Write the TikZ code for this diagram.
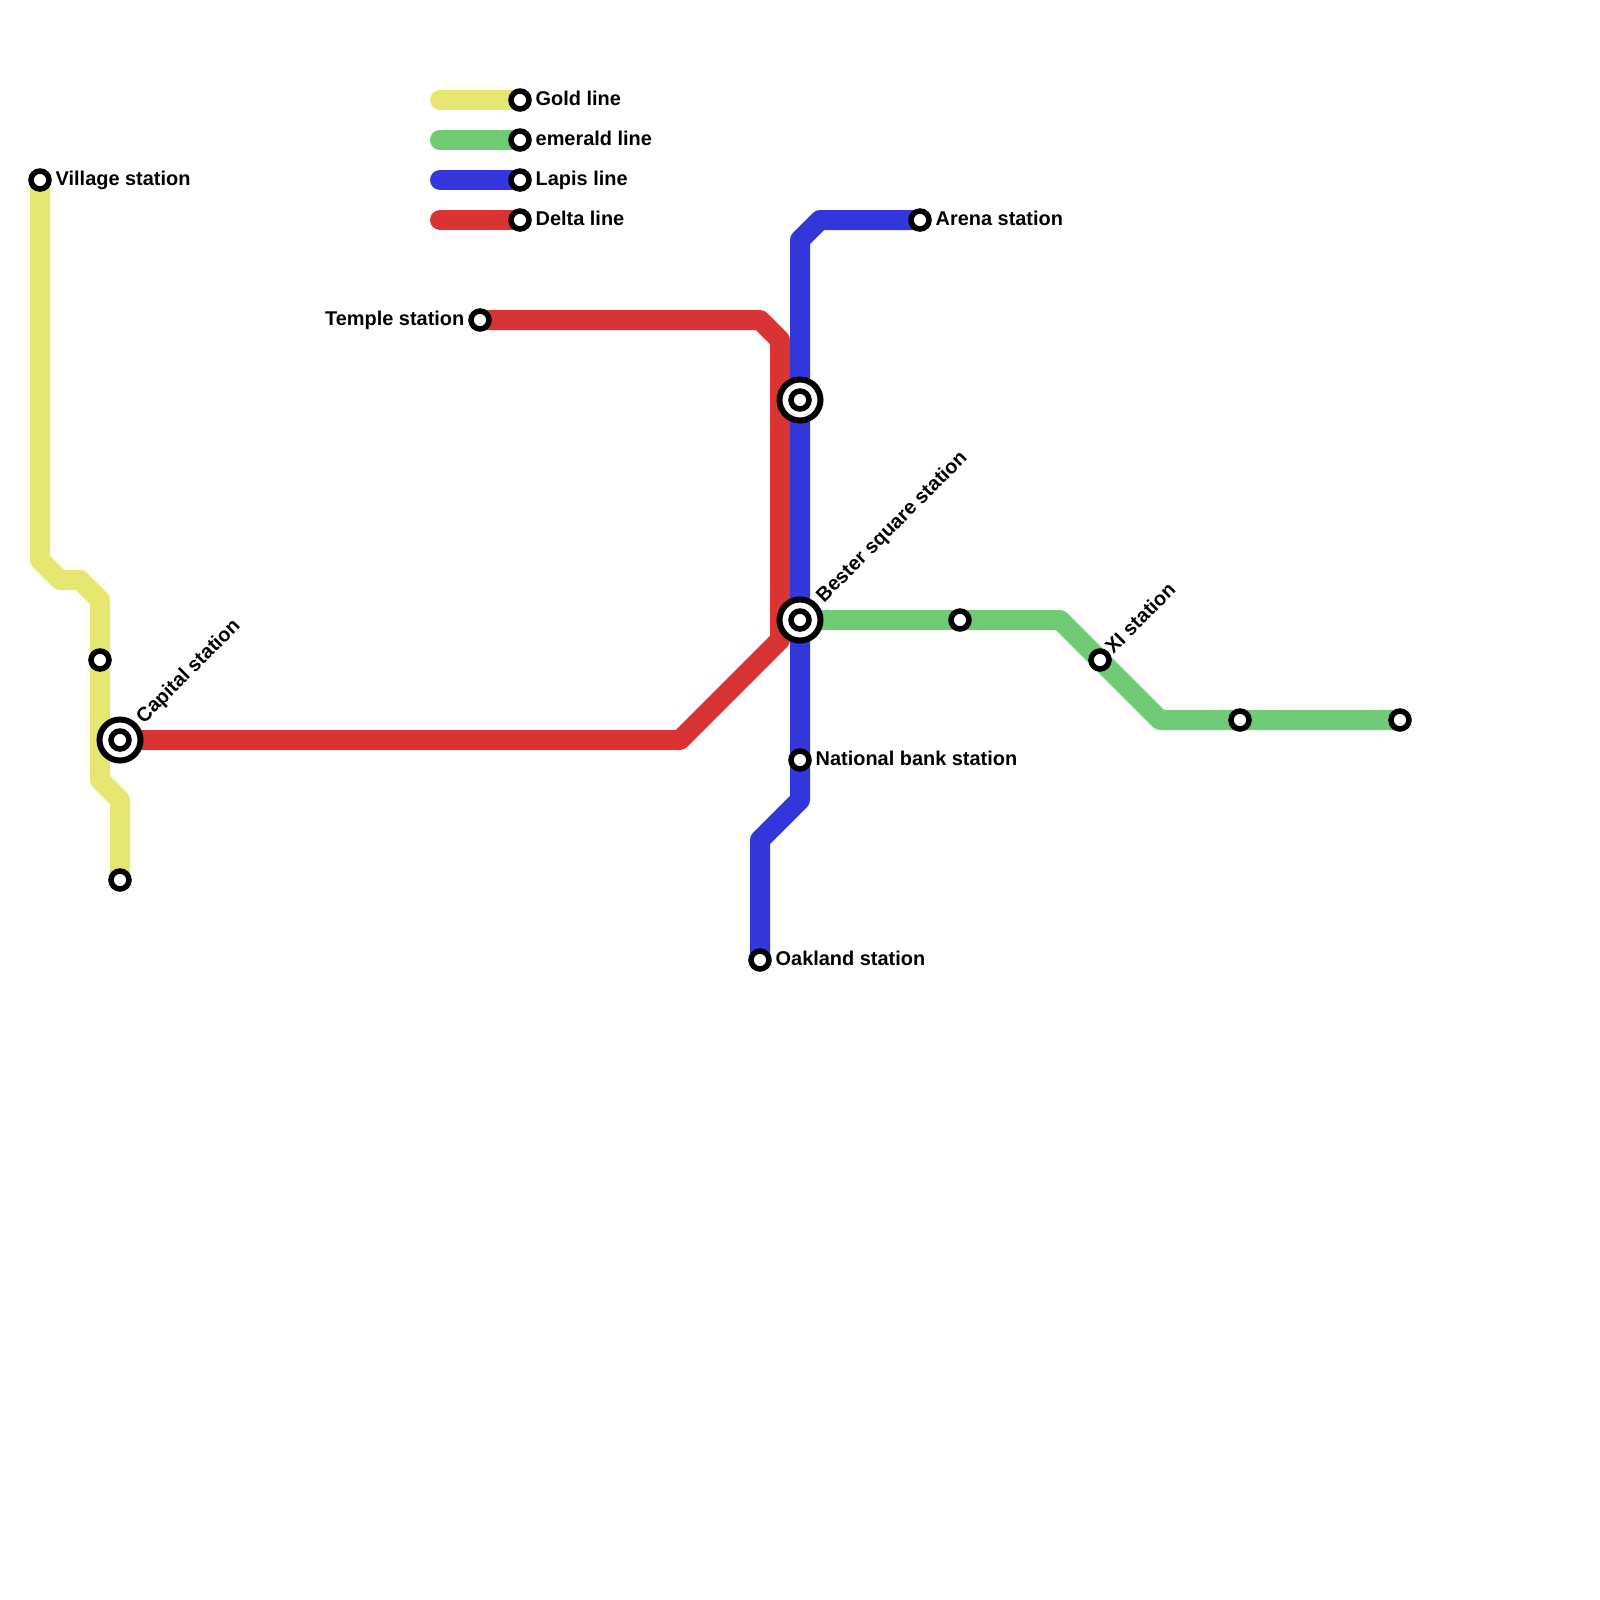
\documentclass[tikz,border=0pt]{standalone}
\usepackage{fontspec}
\setmainfont{Liberation Sans}
\usetikzlibrary{backgrounds}
\tikzset{
  goldln/.style={draw=goldc,line width=0.2cm,line join=round,line cap=round},
  emeraldln/.style={draw=emeraldc,line width=0.2cm,line join=round,line cap=round},
  lapisln/.style={draw=lapisc,line width=0.2cm,line join=round,line cap=round},
  deltaln/.style={draw=deltac,line width=0.2cm,line join=round,line cap=round},
  stop/.style={circle,draw=black,fill=white,line width=0.055cm,minimum size=0.18cm,inner sep=0pt,outer sep=0pt},
  hubring/.style={circle,draw=black,fill=white,line width=0.06cm,minimum size=0.41cm,inner sep=0pt,outer sep=0pt},
  lbl/.style={inner sep=0pt,text height=0.15cm,text depth=0.05cm,font=\fontsize{5.67}{7}\selectfont\bfseries},
  lblup/.style={lbl,rotate=45,anchor=west}
}
\definecolor{goldc}{HTML}{E6E770}
\definecolor{emeraldc}{HTML}{70CB75}
\definecolor{lapisc}{HTML}{3336DB}
\definecolor{deltac}{HTML}{D93333}
\begin{document}
\begin{tikzpicture}[x=0.2cm,y=-0.2cm]
\path[use as bounding box] (0,0) rectangle (80,80);
\node[stop] (village) at (2,9) {};
\node[stop] (goldmid) at (5,33) {};
\node[hubring] (capitalring) at (6,37) {};
\node[stop] (capital) at (capitalring.center) {};
\node[stop] (goldend) at (6,44) {};
\node[stop] (temple) at (24,16) {};
\node[hubring] (northring) at (40,20) {};
\node[stop] (north) at (northring.center) {};
\node[hubring] (besterring) at (40,31) {};
\node[stop] (bester) at (besterring.center) {};
\node[stop] (bank) at (40,38) {};
\node[stop] (oakland) at (38,48) {};
\node[stop] (arena) at (46,11) {};
\node[stop] (emeraldmid) at (48,31) {};
\node[stop] (xi) at (55,33) {};
\node[stop] (emeraldfour) at (62,36) {};
\node[stop] (emeraldend) at (70,36) {};
\node[stop] (keygold) at (26,5) {};
\node[stop] (keyemerald) at (26,7) {};
\node[stop] (keylapis) at (26,9) {};
\node[stop] (keydelta) at (26,11) {};
\coordinate (keygoldstart) at (22,5);
\coordinate (keyemeraldstart) at (22,7);
\coordinate (keylapisstart) at (22,9);
\coordinate (keydeltastart) at (22,11);
\begin{scope}[on background layer]
\draw[goldln] (village.center) -- (2,28) -- (3,29) -- (4,29) -- (5,30) -- (goldmid.center) -- (5,39) -- (6,40) -- (goldend.center);
\draw[deltaln] (temple.center) -- (38,16) -- (39,17) -- (39,32) -- (34,37) -- (capital.center);
\draw[lapisln] (arena.center) -- (41,11) -- (40,12) -- (north.center) -- (bester.center) -- (bank.center) -- (40,40) -- (38,42) -- (oakland.center);
\draw[emeraldln] (bester.center) -- (emeraldmid.center) -- (53,31) -- (xi.center) -- (58,36) -- (emeraldfour.center) -- (emeraldend.center);
\draw[goldln] (keygoldstart) -- (keygold.center);
\draw[emeraldln] (keyemeraldstart) -- (keyemerald.center);
\draw[lapisln] (keylapisstart) -- (keylapis.center);
\draw[deltaln] (keydeltastart) -- (keydelta.center);
\end{scope}
\node[lbl,right=0.15cm] (villagelbl) at (village.center) {Village station};
\node[lbl,left=0.15cm] (templelbl) at (temple.center) {Temple station};
\node[lbl,right=0.15cm] (banklbl) at (bank.center) {National bank station};
\node[lbl,right=0.15cm] (oaklandlbl) at (oakland.center) {Oakland station};
\node[lbl,right=0.15cm] (arenalbl) at (arena.center) {Arena station};
\node[lblup] (capitallbl) at (7.0,36.05) {Capital station};
\node[lblup] (besterlbl) at (41.0,30.0) {Bester square station};
\node[lblup] (xilbl) at (55.47,32.57) {XI station};
\node[lbl,right=0.15cm] (keygoldlbl) at (keygold.center) {Gold line};
\node[lbl,right=0.15cm] (keyemeraldlbl) at (keyemerald.center) {emerald line};
\node[lbl,right=0.15cm] (keylapislbl) at (keylapis.center) {Lapis line};
\node[lbl,right=0.15cm] (keydeltalbl) at (keydelta.center) {Delta line};
\end{tikzpicture}
\end{document}
